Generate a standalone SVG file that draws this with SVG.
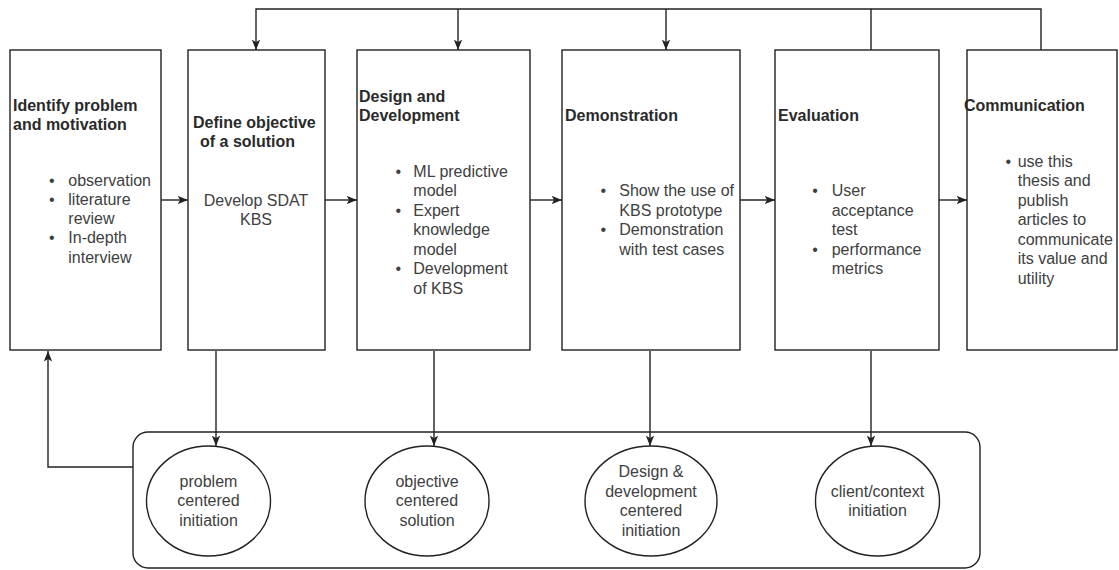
<svg xmlns="http://www.w3.org/2000/svg" width="1119" height="570" viewBox="0 0 1119 570">
  <style>
    .box { fill: #ffffff; stroke: #222222; stroke-width: 1.4; }
    .edge { fill: none; stroke: #222222; stroke-width: 1.4; }
    .title { font-family: "Liberation Sans", Arial, Helvetica, sans-serif; font-size: 16px; font-weight: bold; fill: #2a2a2a; }
    .body { font-family: "Liberation Sans", Arial, Helvetica, sans-serif; font-size: 16px; fill: #404040; }
    .mid { text-anchor: middle; }
  </style>
  <defs>
    <marker id="arrow" viewBox="0 0 10 10" refX="10" refY="5" markerWidth="10.5" markerHeight="10.5" markerUnits="userSpaceOnUse" orient="auto">
      <path d="M0,1 L10,5 L0,9 L2.5,5 z" fill="#222222"/>
    </marker>
  </defs>
  <rect width="1119" height="570" fill="#ffffff"/>

  <g id="identify">
    <rect class="box" x="10" y="50" width="151" height="300"/>
    <text class="title" x="13" y="110.5">Identify problem</text>
    <text class="title" x="13" y="129.5">and motivation</text>
    <text class="body mid" x="51.7" y="185.5">•</text>
    <text class="body" x="68.3" y="185.5">observation</text>
    <text class="body mid" x="51.7" y="204.5">•</text>
    <text class="body" x="68.3" y="204.5">literature</text>
    <text class="body" x="68.3" y="224">review</text>
    <text class="body mid" x="51.7" y="243">•</text>
    <text class="body" x="68.3" y="243">In-depth</text>
    <text class="body" x="68.3" y="262.5">interview</text>
  </g>

  <g id="define">
    <rect class="box" x="188" y="50" width="137" height="300"/>
    <text class="title" x="193" y="127.5">Define objective</text>
    <text class="title" x="200" y="146.5">of a solution</text>
    <text class="body mid" x="256" y="206">Develop SDAT</text>
    <text class="body mid" x="256" y="225">KBS</text>
  </g>

  <g id="design">
    <rect class="box" x="357" y="50" width="173" height="300"/>
    <text class="title" x="359" y="101.5">Design and</text>
    <text class="title" x="359" y="120.5">Development</text>
    <text class="body mid" x="398.3" y="176.5">•</text>
    <text class="body" x="413.3" y="176.5">ML predictive</text>
    <text class="body" x="413.3" y="196">model</text>
    <text class="body mid" x="398.3" y="215.5">•</text>
    <text class="body" x="413.3" y="215.5">Expert</text>
    <text class="body" x="413.3" y="235">knowledge</text>
    <text class="body" x="413.3" y="254.5">model</text>
    <text class="body mid" x="398.3" y="274">•</text>
    <text class="body" x="413.3" y="274">Development</text>
    <text class="body" x="413.3" y="293.5">of KBS</text>
  </g>

  <g id="demonstration">
    <rect class="box" x="562" y="50" width="178" height="300"/>
    <text class="title" x="565" y="120.5">Demonstration</text>
    <text class="body mid" x="603.3" y="196">•</text>
    <text class="body" x="619.3" y="196">Show the use of</text>
    <text class="body" x="619.3" y="215.5">KBS prototype</text>
    <text class="body mid" x="603.3" y="235">•</text>
    <text class="body" x="619.3" y="235">Demonstration</text>
    <text class="body" x="619.3" y="254.5">with test cases</text>
  </g>

  <g id="evaluation">
    <rect class="box" x="775" y="50" width="164" height="300"/>
    <text class="title" x="778" y="120.5">Evaluation</text>
    <text class="body mid" x="815" y="196">•</text>
    <text class="body" x="831.7" y="196">User</text>
    <text class="body" x="831.7" y="215.5">acceptance</text>
    <text class="body" x="831.7" y="235">test</text>
    <text class="body mid" x="815" y="254.5">•</text>
    <text class="body" x="831.7" y="254.5">performance</text>
    <text class="body" x="831.7" y="274">metrics</text>
  </g>

  <g id="communication">
    <rect class="box" x="967" y="50" width="150" height="300"/>
    <text class="title" x="964" y="111">Communication</text>
    <text class="body mid" x="1008.3" y="166.5">•</text>
    <text class="body" x="1017.7" y="166.5">use this</text>
    <text class="body" x="1017.7" y="186">thesis and</text>
    <text class="body" x="1017.7" y="205.5">publish</text>
    <text class="body" x="1017.7" y="225">articles to</text>
    <text class="body" x="1017.7" y="244.5">communicate</text>
    <text class="body" x="1017.7" y="264">its value and</text>
    <text class="body" x="1017.7" y="283.5">utility</text>
  </g>

  <!-- research entry points -->
  <g id="entry-points">
    <rect class="box" x="133" y="432" width="847" height="136" rx="15" ry="15"/>
  </g>

  <g id="problem-centered">
    <ellipse class="box" cx="208.5" cy="501" rx="62" ry="55"/>
    <text class="body mid" x="208.5" y="486.7">problem</text>
    <text class="body mid" x="208.5" y="506.2">centered</text>
    <text class="body mid" x="208.5" y="525.7">initiation</text>
  </g>

  <g id="objective-centered">
    <ellipse class="box" cx="427" cy="501" rx="62" ry="55"/>
    <text class="body mid" x="427" y="486.7">objective</text>
    <text class="body mid" x="427" y="506.2">centered</text>
    <text class="body mid" x="427" y="525.7">solution</text>
  </g>

  <g id="design-centered">
    <ellipse class="box" cx="651" cy="501" rx="66" ry="55"/>
    <text class="body mid" x="651" y="477.3">Design &amp;</text>
    <text class="body mid" x="651" y="496.8">development</text>
    <text class="body mid" x="651" y="516.3">centered</text>
    <text class="body mid" x="651" y="535.8">initiation</text>
  </g>

  <g id="client-context">
    <ellipse class="box" cx="877.5" cy="501" rx="62" ry="55"/>
    <text class="body mid" x="877.5" y="496.8">client/context</text>
    <text class="body mid" x="877.5" y="516.3">initiation</text>
  </g>

  <!-- connectors, drawn over the shapes -->
  <g id="connectors">
    <!-- feedback loop along the top -->
    <path class="edge" d="M871,50 V9 H256 V50" marker-end="url(#arrow)"/>
    <path class="edge" d="M1041,50 V9 H871"/>
    <path class="edge" d="M458,9 V50" marker-end="url(#arrow)"/>
    <path class="edge" d="M666,9 V50" marker-end="url(#arrow)"/>
    <!-- process flow -->
    <path class="edge" d="M161,200 H188" marker-end="url(#arrow)"/>
    <path class="edge" d="M325,200 H357" marker-end="url(#arrow)"/>
    <path class="edge" d="M530,200 H562" marker-end="url(#arrow)"/>
    <path class="edge" d="M740,200 H775" marker-end="url(#arrow)"/>
    <path class="edge" d="M939,200 H967" marker-end="url(#arrow)"/>
    <!-- entry points -->
    <path class="edge" d="M216,351 V446" marker-end="url(#arrow)"/>
    <path class="edge" d="M434,351 V446" marker-end="url(#arrow)"/>
    <path class="edge" d="M650,351 V446" marker-end="url(#arrow)"/>
    <path class="edge" d="M871,351 V446" marker-end="url(#arrow)"/>
    <!-- back to the first step -->
    <path class="edge" d="M133,467 H48 V351" marker-end="url(#arrow)"/>
  </g>
</svg>
